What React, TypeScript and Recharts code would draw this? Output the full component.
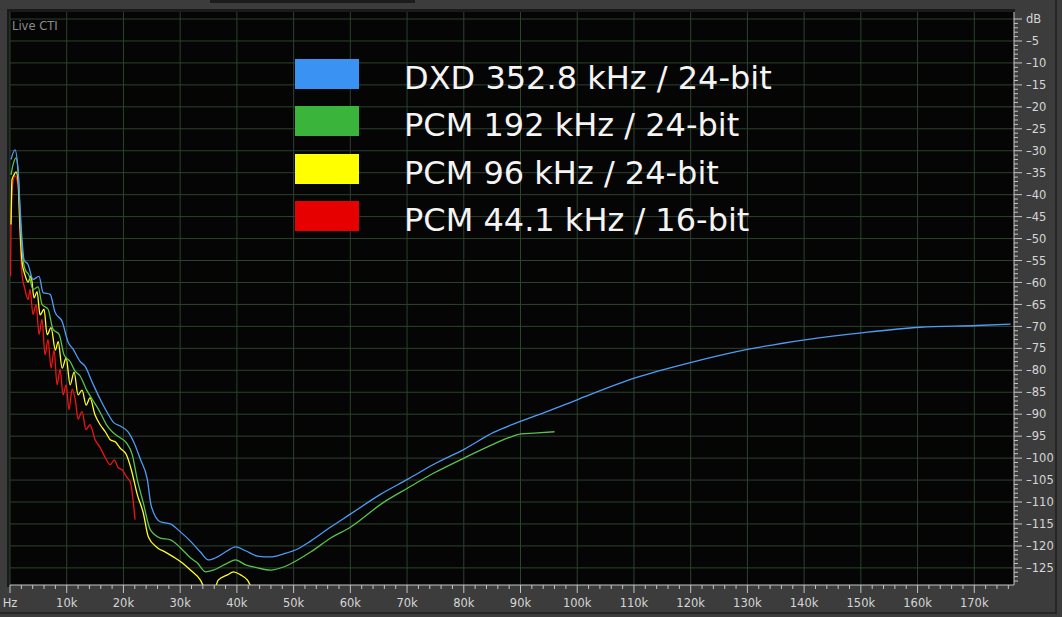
import { LineChart, Line, XAxis, YAxis, CartesianGrid } from "recharts";

// DXD 352.8 kHz / 24-bit
const dxdKHz = [0.18, 0.88, 1.41, 1.77, 2.12, 2.47, 3.18, 4.06, 5.12, 5.83, 7.07, 7.95, 9.19, 10.25, 11.13, 12.37, 13.25, 14.49, 15.9, 17.31, 18.2, 19.43, 20.85, 21.73, 22.97, 24.2, 24.9, 26.5, 28.27, 30.04, 31.8, 33.57, 34.98, 36.57, 38.34, 39.75, 41.52, 43.64, 45.94, 48.23, 50.71, 53.0, 56.54, 60.07, 65.37, 70.14, 74.73, 80.04, 85.34, 90.1, 94.88, 100.2, 110.07, 120.14, 130.21, 140.46, 150.53, 160.42, 170.5, 176.4];
const dxdDb = [-32.0, -29.8, -34.3, -42.7, -50.2, -54.8, -55.9, -59.3, -58.6, -62.3, -62.7, -66.8, -68.9, -73.6, -75.2, -78.0, -79.1, -82.7, -86.6, -90.0, -91.8, -92.7, -94.1, -96.1, -100.2, -104.8, -110.9, -114.5, -115.0, -116.8, -118.9, -121.4, -123.2, -122.5, -121.1, -120.2, -121.1, -122.3, -122.5, -121.8, -120.7, -118.9, -115.7, -112.7, -108.2, -104.8, -101.4, -98.0, -94.1, -91.6, -89.3, -86.6, -81.8, -78.2, -75.2, -73.0, -71.4, -70.2, -69.8, -69.5];

// PCM 192 kHz / 24-bit
const pcm192KHz = [0.18, 0.53, 1.06, 1.41, 1.77, 2.12, 2.65, 3.36, 4.06, 4.95, 5.65, 6.71, 7.6, 8.66, 9.54, 10.6, 11.48, 12.37, 13.43, 14.49, 15.9, 16.96, 18.02, 19.08, 20.49, 21.55, 22.44, 23.5, 24.73, 26.5, 28.27, 30.04, 31.8, 33.04, 34.45, 35.87, 38.34, 39.75, 41.52, 43.64, 45.94, 48.23, 50.71, 53.0, 56.54, 60.07, 65.72, 70.14, 74.73, 80.04, 84.28, 87.81, 90.1, 92.4, 96.0];
const pcm192Db = [-35.5, -33.2, -31.6, -34.3, -44.5, -52.5, -57.0, -58.4, -61.6, -61.0, -65.0, -66.1, -70.7, -71.8, -76.5, -78.0, -80.2, -81.3, -84.3, -86.6, -89.6, -92.3, -94.0, -95.1, -96.5, -99.2, -104.9, -110.2, -116.3, -118.2, -118.6, -120.4, -122.7, -123.9, -125.9, -125.5, -123.9, -123.2, -124.3, -125.0, -125.5, -124.8, -123.2, -121.4, -118.2, -115.7, -110.2, -106.8, -103.4, -100.0, -97.4, -95.4, -94.5, -94.3, -94.0];

// PCM 96 kHz / 24-bit
const pcm96KHz = [0.18, 0.35, 0.7, 1.06, 1.41, 1.77, 2.12, 2.65, 3.18, 3.71, 4.24, 4.77, 5.3, 6.0, 6.54, 7.24, 8.0, 8.5, 9.19, 9.9, 10.6, 11.3, 12.0, 12.7, 13.43, 14.1, 15.0, 15.9, 16.8, 17.67, 18.55, 19.4, 20.5, 21.4, 22.44, 23.5, 24.38, 25.97, 27.39, 28.8, 30.4, 31.8, 33.57, 34.45, 35.3, 36.2, 36.7, 38.34, 39.4, 40.64, 41.87, 42.8, 44.2, 46.3, 48.0];
const pcm96Db = [-46.8, -36.6, -35.5, -34.8, -36.6, -47.6, -55.3, -58.3, -59.9, -58.5, -63.5, -62.1, -67.4, -66.1, -71.9, -70.3, -75.4, -73.5, -79.5, -77.2, -83.3, -80.4, -85.6, -84.5, -87.9, -86.3, -90.2, -92.4, -94.0, -95.8, -96.3, -97.7, -99.2, -102.7, -108.3, -112.5, -117.9, -120.4, -121.4, -122.5, -123.9, -125.5, -127.8, -130.0, -131.1, -129.5, -127.8, -126.6, -125.9, -126.6, -127.8, -130.0, -131.1, -131.8, -132.3];

// PCM 44.1 kHz / 16-bit
const pcm44KHz = [0.09, 0.18, 0.53, 0.88, 1.41, 1.77, 2.12, 2.65, 3.18, 3.53, 4.06, 4.6, 5.12, 5.65, 6.18, 6.7, 7.24, 7.77, 8.3, 8.83, 9.36, 9.9, 10.4, 10.95, 11.5, 12.0, 12.7, 13.4, 14.1, 15.0, 15.9, 16.8, 17.67, 18.4, 19.08, 19.8, 20.67, 21.2, 22.05];
const pcm44Db = [-58.6, -46.8, -37.0, -35.7, -37.7, -49.1, -58.2, -61.6, -63.9, -61.6, -67.3, -65.0, -71.8, -68.4, -76.5, -73.0, -79.5, -75.4, -83.3, -79.8, -85.6, -83.3, -89.0, -84.3, -86.6, -91.1, -89.4, -93.5, -92.4, -95.8, -97.6, -99.9, -101.5, -100.4, -102.2, -102.7, -104.5, -105.4, -114.0];

const seriesNames = ["DXD 352.8 kHz / 24-bit", "PCM 192 kHz / 24-bit", "PCM 96 kHz / 24-bit", "PCM 44.1 kHz / 16-bit"];
const swatchColors = ["#3a92f2", "#3bb43b", "#ffff00", "#e60000"];
const lineColors = ["#4f9cf5", "#58c24e", "#ffff22", "#f01414"];

const freqTicks = Array.from({ length: 89 }, (_, i) => i * 2);
const dbTicks = Array.from({ length: 129 }, (_, i) => -128 + i);
const gridKHz = Array.from({ length: 18 }, (_, i) => i * 10);
const gridDb = Array.from({ length: 26 }, (_, i) => -i * 5);

const toPoints = (f: number[], d: number[]) => f.map((v, i) => ({ f: v, db: d[i] }));
const series = [
  toPoints(dxdKHz, dxdDb),
  toPoints(pcm192KHz, pcm192Db),
  toPoints(pcm96KHz, pcm96Db),
  toPoints(pcm44KHz, pcm44Db),
];

const axisText = "#d6d6d6";
const font = "DejaVu Sans, Verdana, sans-serif";

function FreqTick({ x, y, payload }: any) {
  const v = payload.value;
  const major = v % 10 === 0;
  return (
    <g>
      <line x1={x} x2={x} y1={y} y2={y + (major ? 8 : 4)} stroke="#c4c4c4" />
      {major && (
        <text x={x} y={y + 22} textAnchor="middle" fill={axisText} fontSize={11.5} fontFamily={font}>
          {v === 0 ? "Hz" : `${v}k`}
        </text>
      )}
    </g>
  );
}

function DbTick({ x, y, payload }: any) {
  const v = payload.value;
  const major = v % 5 === 0;
  return (
    <g>
      <line x1={x} x2={x + (major ? 8 : 4)} y1={y} y2={y} stroke="#c4c4c4" />
      {major && (
        <text x={x + 12} y={y} dy="0.36em" fill={axisText} fontSize={11.5} fontFamily={font}>
          {v === 0 ? "dB" : `–${-v}`}
        </text>
      )}
    </g>
  );
}

export default function App() {
  // draw order: red under, blue on top
  const order = [3, 2, 1, 0];
  return (
    <div style={{ position: "absolute", left: 0, top: 0, width: 1062, height: 617, background: "#3c3c3c", overflow: "hidden" }}>
      <div style={{ position: "absolute", left: 210, top: 0, width: 205, height: 3, background: "#1c1c1c" }} />
      <div style={{ position: "absolute", left: 0, top: 0, width: 1057, height: 614, borderRight: "2px solid #262626", borderBottom: "2px solid #262626", boxSizing: "border-box" }} />
      <div style={{ position: "absolute", left: 7, top: 9, width: 1008, height: 578, borderLeft: "3px solid #1a1a1a", borderTop: "3px solid #1a1a1a", boxSizing: "border-box" }} />
      <LineChart width={1062} height={617} margin={{ top: 12, right: 0, bottom: 0, left: 10 }}>
        <CartesianGrid
          fill="#050505"
          stroke="#2d422d"
          horizontalValues={gridDb}
          verticalValues={gridKHz}
        />
        <XAxis
          dataKey="f"
          type="number"
          domain={[0, 177]}
          ticks={freqTicks}
          interval={0}
          height={32}
          tickSize={0}
          tickMargin={0}
          tickLine={false}
          axisLine={{ stroke: "#c4c4c4" }}
          tick={<FreqTick />}
          allowDataOverflow
        />
        <YAxis
          orientation="right"
          type="number"
          domain={[-128.9, 1.6]}
          ticks={dbTicks}
          interval={0}
          width={48}
          tickSize={0}
          tickMargin={0}
          tickLine={false}
          axisLine={{ stroke: "#c4c4c4" }}
          tick={<DbTick />}
          allowDataOverflow
        />
        {order.map((i) => (
          <Line
            key={seriesNames[i]}
            name={seriesNames[i]}
            data={series[i]}
            dataKey="db"
            type="monotoneX"
            stroke={lineColors[i]}
            strokeWidth={1.3}
            dot={false}
            activeDot={false}
            isAnimationActive={false}
          />
        ))}
      </LineChart>
      <div style={{ position: "absolute", left: 12, top: 19, fontFamily: font, fontSize: 11.5, color: "#8c8c8c" }}>Live CTI</div>
      {seriesNames.map((name, i) => (
        <div key={name} style={{ position: "absolute", left: 295, top: 59 + i * 47.3, height: 30, display: "flex" }}>
          <div style={{ width: 64, height: 30, background: swatchColors[i] }} />
          <div style={{ marginLeft: 45, fontFamily: font, fontSize: 32, lineHeight: "38px", color: "#f4f4f4", whiteSpace: "nowrap" }}>
            {name}
          </div>
        </div>
      ))}
    </div>
  );
}
